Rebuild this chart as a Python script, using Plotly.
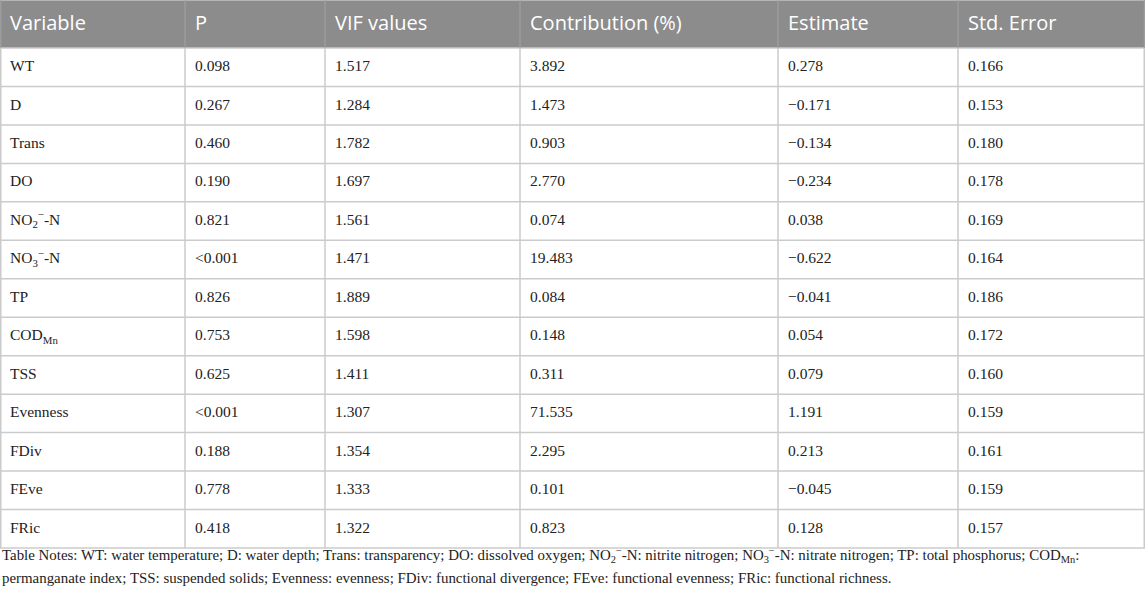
import numpy as np
import plotly.graph_objects as go

# table data
header = ["Variable", "P", "VIF values", "Contribution (%)", "Estimate", "Std. Error"]
variables = ["WT", "D", "Trans", "DO", "NO<sub>2</sub><sup>−</sup>-N", "NO<sub>3</sub><sup>−</sup>-N",
             "TP", "COD<sub>Mn</sub>", "TSS", "Evenness", "FDiv", "FEve", "FRic"]
p_values = ["0.098", "0.267", "0.460", "0.190", "0.821", "<0.001", "0.826", "0.753",
            "0.625", "<0.001", "0.188", "0.778", "0.418"]
vif_values = ["1.517", "1.284", "1.782", "1.697", "1.561", "1.471", "1.889", "1.598",
              "1.411", "1.307", "1.354", "1.333", "1.322"]
contribution = ["3.892", "1.473", "0.903", "2.770", "0.074", "19.483", "0.084", "0.148",
                "0.311", "71.535", "2.295", "0.101", "0.823"]
estimate = ["0.278", "−0.171", "−0.134", "−0.234", "0.038", "−0.622", "−0.041", "0.054",
            "0.079", "1.191", "0.213", "−0.045", "0.128"]
std_error = ["0.166", "0.153", "0.180", "0.178", "0.169", "0.164", "0.186", "0.172",
             "0.160", "0.159", "0.161", "0.159", "0.157"]

notes_lines = [
    "Table Notes: WT: water temperature; D: water depth; Trans: transparency; DO: dissolved oxygen; "
    "NO<sub>2</sub><sup>−</sup>-N: nitrite nitrogen; NO<sub>3</sub><sup>−</sup>-N: nitrate nitrogen; "
    "TP: total phosphorus; COD<sub>Mn</sub>:",
    "permanganate index; TSS: suspended solids; Evenness: evenness; FDiv: functional divergence; "
    "FEve: functional evenness; FRic: functional richness.",
]

columns = [variables, p_values, vif_values, contribution, estimate, std_error]

# layout of the table grid (width units == px of the 1145x594 page)
W, H = 1145, 594
col_widths = [185, 140, 195, 258, 180, 187]
header_h = 48
row_h = 38.46
pad = 10

edges = np.concatenate([[0], np.cumsum(col_widths)])
n_rows = len(variables)
table_h = header_h + row_h * n_rows
row_mid = header_h + row_h * (np.arange(n_rows) + 0.5)

fig = go.Figure()

# header text
fig.add_trace(go.Scatter(
    x=edges[:-1] + pad, y=[header_h / 2 + 1] * len(header), text=header,
    mode="text", textposition="middle right", hoverinfo="skip",
    textfont=dict(family="Open Sans", size=20, color="white"),
))

# body text, one trace per column
for j, col in enumerate(columns):
    fig.add_trace(go.Scatter(
        x=[edges[j] + pad] * n_rows, y=row_mid, text=col,
        mode="text", textposition="middle right", hoverinfo="skip",
        textfont=dict(family="Liberation Serif", size=15.5, color="#222222"),
    ))

shapes = []
# header band
shapes.append(dict(type="rect", xref="x", yref="y", x0=0, x1=W, y0=0, y1=header_h,
                   fillcolor="#8c8c8c", line=dict(width=0), layer="below"))
# horizontal rules
for k in range(n_rows + 1):
    yk = header_h + k * row_h
    shapes.append(dict(type="line", xref="x", yref="y", x0=0, x1=W, y0=yk, y1=yk,
                       line=dict(color="#cbcbcb", width=1.5), layer="below"))
shapes.append(dict(type="line", xref="x", yref="y", x0=0, x1=W, y0=0.5, y1=0.5,
                   line=dict(color="#b5b5b5", width=1), layer="below"))
# vertical rules
for j, xe in enumerate(edges):
    xe = min(max(xe, 0.75), W - 0.75)
    shapes.append(dict(type="line", xref="x", yref="y", x0=xe, x1=xe, y0=header_h, y1=table_h,
                       line=dict(color="#cbcbcb", width=1.5), layer="below"))
    shapes.append(dict(type="line", xref="x", yref="y", x0=xe, x1=xe, y0=0, y1=header_h,
                       line=dict(color="#a3a3a3", width=1), layer="below"))

for i, line in enumerate(notes_lines):
    fig.add_annotation(
        text=line, xref="x", yref="y", x=0, y=table_h + 7 + i * 23,
        xanchor="left", yanchor="middle", align="left", showarrow=False,
        font=dict(family="Liberation Serif", size=14.9, color="#222222"),
    )

fig.update_layout(
    width=W, height=H,
    margin=dict(l=0, r=0, t=0, b=0),
    paper_bgcolor="white", plot_bgcolor="white",
    showlegend=False,
    shapes=shapes,
    xaxis=dict(range=[0, W], visible=False, fixedrange=True),
    yaxis=dict(range=[H, 0], visible=False, fixedrange=True),
)

fig.write_html("out.html", config={"displayModeBar": False},
               post_script="document.body.style.margin='0';")
